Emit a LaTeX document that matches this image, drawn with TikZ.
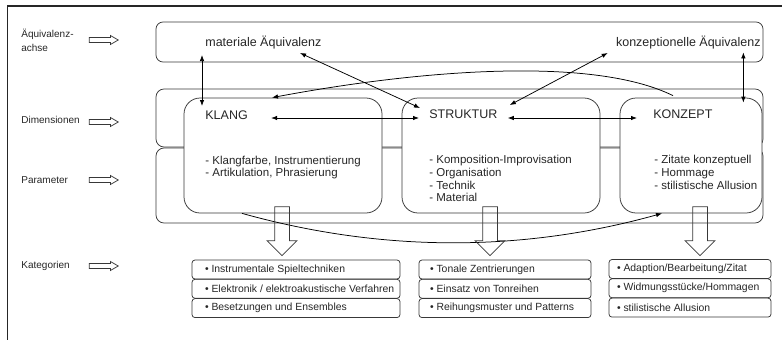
\documentclass[tikz,border=0pt]{standalone}
\usepackage{fontspec}
\setmainfont{Liberation Sans}
\usetikzlibrary{arrows.meta, calc, positioning, shapes.arrows}
\definecolor{linec}{gray}{0.22}
\definecolor{textc}{gray}{0.15}

\tikzset{
  band/.style={draw=linec, rounded corners=8pt, minimum width=607pt, inner sep=0pt},
  dimbox/.style={draw=linec, fill=white, rounded corners=16pt, minimum height=115pt, inner sep=0pt},
  sidelabel/.style={font=\fontsize{10}{14}\selectfont, text=textc, anchor=west, align=left, inner sep=1pt},
  sidearrow/.style={single arrow, draw=linec, minimum height=29pt, inner xsep=0pt, inner ysep=2.2pt,
    single arrow head extend=1.9pt, single arrow tip angle=60},
  downarrow/.style={single arrow, draw=linec, rotate=-90, minimum height=49pt, inner xsep=0pt, inner ysep=7pt,
    single arrow head extend=7.5pt},
  headtext/.style={font=\fontsize{12.5}{14}\selectfont, text=textc, inner sep=1pt},
  listtext/.style={font=\fontsize{11.5}{12.7}\selectfont, text=textc, anchor=north west, align=left, inner sep=1pt},
  catrow/.style={draw=linec, rounded corners=3pt, minimum width=#1, minimum height=19pt, inner sep=0pt},
  cattext/.style={anchor=west, xshift=#1, font=\fontsize{10.4}{12}\selectfont, text=textc, inner sep=1pt}
}

\begin{document}
\begin{tikzpicture}[x=1pt, y=-1pt, >={Latex[length=6pt,width=4.5pt]}, line width=0.75pt]
\useasboundingbox (0,0) rectangle (782,340);
% frame
\draw[line width=1.8pt, black!85] (7.5,340) -- (7.5,6) -- (782,6);

% left column
\node[sidelabel] (achseL) at (20,40) {Äquivalenz-\\achse};
\node[sidelabel] (dimL) at (20,120) {Dimensionen};
\node[sidelabel] (paramL) at (20,180) {Parameter};
\node[sidelabel] (katL) at (20,266) {Kategorien};
\node[sidearrow] (achseA) at (101.5,40) {};
\node[sidearrow] (dimA) at (101.5,122) {};
\node[sidearrow] (paramA) at (101.5,180) {};
\node[sidearrow] (katA) at (101.5,266) {};

% bands
\node[band, minimum height=40pt, rounded corners=7pt] (achse) at (459.5,42) {};
\node[band, minimum height=58pt] (dimband) at (459.5,118) {};
\node[band, minimum height=75pt] (paramband) at (459.5,185.5) {};

% dimensions
\node[dimbox, minimum width=198pt] (klang) at (283,155.5) {};
\node[dimbox, minimum width=198pt] (struktur) at (501,155.5) {};
\node[dimbox, minimum width=142pt] (konzept) at (691,155.5) {};

\node[headtext, anchor=west] (matT) at (204,43) {materiale Äquivalenz};
\node[headtext, anchor=east] (konzT) at (762,43) {konzeptionelle Äquivalenz};
\node[headtext, anchor=west] (klangT) at (204,115) {KLANG};
\node[headtext, anchor=west] (strukturT) at (428,114) {STRUKTUR};
\node[headtext, anchor=west] (konzeptT) at (652,114) {KONZEPT};

\node[listtext] (klangL) at (204,154.5) {- Klangfarbe, Instrumentierung\\- Artikulation, Phrasierung};
\node[listtext] (strukturL) at (428,154) {- Komposition-Improvisation\\- Organisation\\- Technik\\- Material};
\node[listtext] (konzeptL) at (653,154) {- Zitate konzeptuell\\- Hommage\\- stilistische Allusion};

% connectors
\draw[<->] ($(matT.west)+(-2,12)$) -- ($(klangT.west)+(-2,-9)$);
\draw[<->] ($(matT.west)+(96,10)$) -- ($(strukturT.west)+(-8,-6)$);
\draw[<->] ($(konzT.west)+(-7,10)$) -- ($(strukturT.east)+(11,-9)$);
\draw[<->] ($(achse.south east)+(-20,-10)$) -- ($(konzept.north east)+(-19,5)$);
\draw[<->] ($(klangT.east)+(22,3)$) -- ($(strukturT.west)+(-9,4)$);
\draw[<->] ($(strukturT.east)+(9,4)$) -- ($(konzeptT.west)+(-15,4)$);
\draw[->] ($(konzept.north)+(-18,-2)$) .. controls +(-83,-41) and +(138,-26) .. ($(klang.north)+(-11,0)$);
\draw[->] ($(klang.south)+(-41,0)$) .. controls +(140,39) and +(-140,39) .. ($(konzept.south)+(-29,0)$);

% down arrows
\node[downarrow] (klangD) at (282,227.5) {};
\node[downarrow] (strukturD) at (490,227.5) {};
\node[downarrow] (konzeptD) at (700,227.5) {};

% categories
\node[catrow=208pt, label={[cattext=12pt]west:• Instrumentale Spieltechniken}] (klang1) at (296,269.5) {};
\node[catrow=208pt, label={[cattext=12pt]west:• Elektronik / elektroakustische Verfahren}] (klang2) at (296,288.8) {};
\node[catrow=208pt, label={[cattext=12pt]west:• Besetzungen und Ensembles}] (klang3) at (296,308.1) {};
\node[catrow=172pt, label={[cattext=10pt]west:• Tonale Zentrierungen}] (struktur1) at (505,269.5) {};
\node[catrow=172pt, label={[cattext=10pt]west:• Einsatz von Tonreihen}] (struktur2) at (505,288.8) {};
\node[catrow=172pt, label={[cattext=10pt]west:• Reihungsmuster und Patterns}] (struktur3) at (505,308.1) {};
\node[catrow=162pt, label={[cattext=7pt]west:• Adaption/Bearbeitung/Zitat}] (konzept1) at (690,269) {};
\node[catrow=162pt, label={[cattext=7pt]west:• Widmungsstücke/Hommagen}] (konzept2) at (690,288.3) {};
\node[catrow=162pt, label={[cattext=7pt]west:• stilistische Allusion}] (konzept3) at (690,307.6) {};
\end{tikzpicture}
\end{document}
